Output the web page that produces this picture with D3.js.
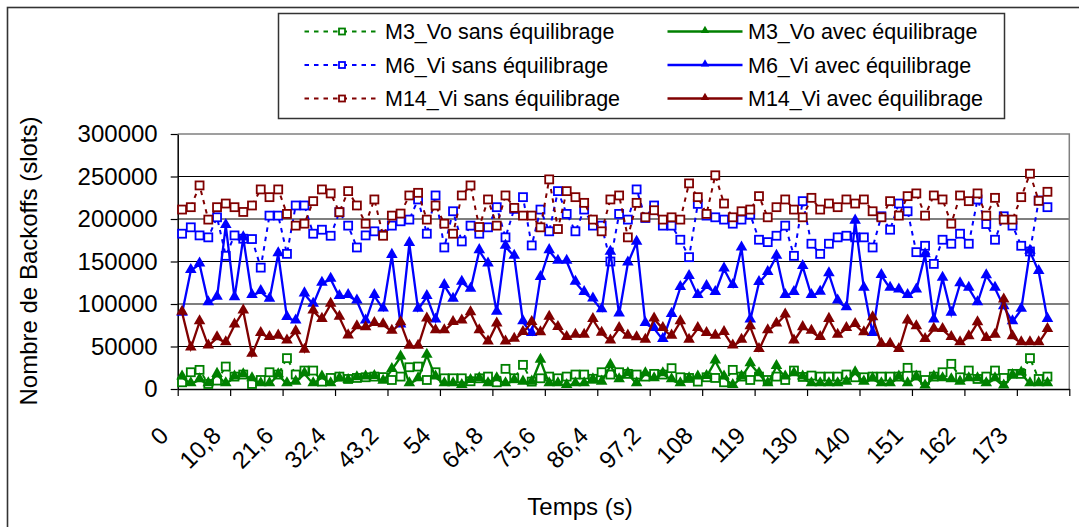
<!DOCTYPE html>
<html lang="fr">
<head>
<meta charset="utf-8">
<title>Backoffs</title>
<script src="https://cdnjs.cloudflare.com/ajax/libs/d3/7.8.5/d3.min.js"></script>
<style>
  body { margin: 0; background: #fff; }
  svg text { font-family: "Liberation Sans", Arial, sans-serif; fill: #000; }
</style>
</head>
<body>
<script>
// categories: one sample every 1.8 s, 102 slots on the axis (100 filled)
var nCategories = 102;
var times = d3.range(nCategories).map(function(i) { return +(i * 1.8).toFixed(1); });
var tickLabels = ["0", "10,8", "21,6", "32,4", "43,2", "54", "64,8", "75,6", "86,4", "97,2",
                  "108", "119", "130", "140", "151", "162", "173"];
var yTicks = [0, 50000, 100000, 150000, 200000, 250000, 300000];

// series values
var m3Sans = [7900,19700,22500,5900,9900,26400,14600,17000,5900,10600,19700,17000,36300,17000,21700,21700,8700,13000,14600,11800,
  13000,13800,14600,14000,10600,14600,25600,26400,10600,19700,12600,12600,12600,9100,12600,14600,7900,23700,12600,28400,
  8700,12600,14600,12600,14600,17000,17000,12000,19700,17000,19700,17800,17000,14600,17800,17000,24500,13800,13000,8700,
  13800,13000,7900,22500,14600,10600,14600,10600,14600,10600,21700,14200,15800,14600,14600,14600,17000,13800,13800,14600,
  14600,14600,14600,24900,15800,10600,14600,19700,29600,13800,21700,11800,14600,21700,13000,17800,17800,36300,11800,14600];
var m3Avec = [13800,5900,10600,5900,17000,5900,13800,16600,11800,5900,5900,16600,5900,7900,17800,5900,13800,5900,11800,9900,
  13000,13800,14600,8900,22700,37500,5900,11800,39500,13800,5900,5900,3900,9900,11800,5900,11800,5900,9900,7900,
  7900,33500,5900,5900,3900,5900,5900,10800,7900,27600,10600,17800,5900,17800,11800,17800,10600,5900,11800,13800,
  14600,32800,13800,3900,13800,29600,17800,5900,26400,13800,17800,13800,5900,5900,5900,5900,7900,18900,7900,11800,
  5900,5900,13800,5900,13800,3200,13800,11800,10600,7900,11800,11800,5900,11800,3200,15800,18500,5900,5900,5900];
var m6Sans = [182700,190200,180700,178400,202000,156700,180700,176800,176400,142800,204000,204000,159000,215900,215900,182700,187400,180300,208000,192200,
  166500,180700,185500,181500,192200,197300,199300,223000,182700,227700,166500,209100,173600,192200,182700,190200,213900,178400,211900,225700,
  168900,211100,185500,232800,206000,185500,211100,192200,192200,150000,206000,199300,234800,201200,215900,192200,192200,175600,155100,217800,
  204000,202000,199300,194500,199300,205200,175600,172800,180300,192200,156700,221000,170900,159000,170900,178400,180300,178400,178400,166500,
  203200,187400,218200,209100,161000,168500,147200,175600,170900,182700,170900,223000,194100,175600,203200,192200,168500,161800,221800,213900];
var m6Avec = [89000,139300,146800,101400,107700,192200,107300,177600,109700,114400,105400,159000,84000,79700,111700,99400,124300,129000,108500,109700,
  103400,79700,109700,94000,157000,75000,170900,93500,108500,80900,121500,105400,125500,117200,162600,146800,90000,167700,155900,78900,
  65100,131000,162600,150000,150000,125500,113300,105600,93000,160600,88000,148000,172400,76900,71000,58000,87600,119200,132200,109700,
  120400,113300,140900,121500,165700,80900,125100,136900,155900,109700,113300,144000,109700,113600,135300,103400,95500,197300,118400,65100,
  133400,118400,116400,109700,116400,157800,80900,130200,88800,123500,118400,101400,133000,118400,96700,78900,93500,161800,138100,81700];
var m14Sans = [211100,213900,239500,199300,213900,218200,213900,208300,215900,234800,225700,234800,206000,192200,194500,221000,234800,230100,208000,232800,
  215900,194500,223000,180300,204000,206400,227700,230800,199300,215900,194500,182700,227700,239500,190600,223000,192200,227700,213100,204000,
  204000,190200,246600,188200,232800,225700,219000,199300,185500,223000,227700,178400,219000,202000,210300,199300,202000,199300,241900,225700,
  206000,251400,218200,202000,209100,211100,226900,202000,213900,223000,211100,202000,224900,211100,218200,213900,223000,218200,223000,209100,
  202000,221000,204000,226900,230100,204000,227700,223000,194500,227700,221000,230100,204000,224900,199300,199300,225700,253300,221400,232000];
var m14Avec = [90000,48100,78900,50500,60000,54100,75000,91500,40600,65100,60400,62000,56400,67100,45400,91500,81700,99400,84100,62300,
  73000,71800,76900,75400,67700,77700,50100,50100,82100,68300,68300,78100,79700,89600,68300,55200,76200,55200,58400,66300,
  78100,65900,84100,72200,60400,63100,63100,81500,65500,56400,71000,62000,60000,57200,82100,71000,62000,78900,57200,71000,
  65100,62000,66300,50500,57200,73000,46200,68300,76200,86800,56400,72000,67700,60400,81700,63100,71000,75800,65900,83700,
  52500,52500,46200,79700,73000,58000,70200,69800,60400,54100,61200,77700,59200,63100,104600,61200,54100,54100,54100,69800];

var series = [
  {name: "M3_Vo sans équilibrage",  values: m3Sans,  color: "#008000", sans: true},
  {name: "M3_Vo avec équilibrage",  values: m3Avec,  color: "#008000", sans: false},
  {name: "M6_Vi sans équilibrage",  values: m6Sans,  color: "#0000ff", sans: true},
  {name: "M6_Vi avec équilibrage",  values: m6Avec,  color: "#0000ff", sans: false},
  {name: "M14_Vi sans équilibrage", values: m14Sans, color: "#800000", sans: true},
  {name: "M14_Vi avec équilibrage", values: m14Avec, color: "#800000", sans: false}
];

var width = 1079, height = 527;
var plot = {left: 177.7, right: 1069.3, top: 134, bottom: 389};

var svg = d3.select("body").append("svg")
  .attr("width", width)
  .attr("height", height);

svg.append("rect").attr("width", width).attr("height", height).attr("fill", "#fff");

// chart frame (right and bottom edges fall outside the picture)
svg.append("rect")
  .attr("x", 7.5).attr("y", 7.5)
  .attr("width", 1100).attr("height", 600)
  .attr("fill", "none").attr("stroke", "#333").attr("stroke-width", 1.6);

var x = d3.scaleBand()
  .domain(d3.range(nCategories))
  .range([plot.left, plot.right])
  .paddingInner(0).paddingOuter(0);

// boundary scale for the tick marks between categories
var xb = d3.scaleLinear().domain([0, nCategories]).range([plot.left, plot.right]);

var y = d3.scaleLinear().domain([0, 300000]).range([plot.bottom, plot.top]);

function cx(i) { return x(i) + x.bandwidth() / 2; }

// gridlines
svg.append("g")
  .selectAll("line")
  .data(yTicks.slice(1, -1))
  .enter().append("line")
  .attr("x1", plot.left).attr("x2", plot.right)
  .attr("y1", function(d) { return y(d); })
  .attr("y2", function(d) { return y(d); })
  .attr("stroke", "#000").attr("stroke-width", 1.2);

// plot area border (top and right)
svg.append("path")
  .attr("d", "M" + plot.left + "," + plot.top + "H" + plot.right + "V" + plot.bottom)
  .attr("fill", "none").attr("stroke", "#808080").attr("stroke-width", 1.5);

// y axis
var yAxis = svg.append("g")
  .attr("transform", "translate(" + plot.left + ",0)")
  .call(d3.axisLeft(y).tickValues(yTicks).tickSize(7).tickSizeOuter(0).tickFormat(d3.format("d")));
yAxis.select(".domain").attr("stroke", "#000").attr("stroke-width", 1.5);
yAxis.selectAll(".tick line").attr("stroke", "#000").attr("stroke-width", 1.2);
yAxis.selectAll(".tick text")
  .attr("x", -20)
  .style("font-size", "24px")
  .style("font-family", "'Liberation Sans', Arial, sans-serif");

// x axis (ticks between categories)
var xAxis = svg.append("g")
  .attr("transform", "translate(0," + plot.bottom + ")")
  .call(d3.axisBottom(xb).tickValues(d3.range(0, nCategories + 1, 6)).tickSize(7).tickSizeOuter(0).tickFormat(""));
xAxis.select(".domain").attr("stroke", "#000").attr("stroke-width", 1.5);
xAxis.selectAll(".tick line").attr("stroke", "#000").attr("stroke-width", 1.2);

svg.append("g")
  .selectAll("text")
  .data(tickLabels)
  .enter().append("text")
  .attr("transform", function(d, k) {
    return "translate(" + (cx(k * 6) - 12) + ",437) rotate(-45)";
  })
  .attr("text-anchor", "end")
  .style("font-size", "24px")
  .text(function(d) { return d; });

// axis titles
svg.append("text")
  .attr("x", 580).attr("y", 515)
  .attr("text-anchor", "middle")
  .style("font-size", "24px")
  .text("Temps (s)");

svg.append("text")
  .attr("transform", "translate(37,261) rotate(-90)")
  .attr("text-anchor", "middle")
  .style("font-size", "24px")
  .text("Nombre de Backoffs (slots)");

// series
var dash = "4.5,5";
var line = d3.line()
  .x(function(d, i) { return cx(i); })
  .y(function(d) { return y(d); });

var tri = d3.symbol().type(d3.symbolTriangle).size(58);
var triSmall = d3.symbol().type(d3.symbolTriangle).size(30);

series.forEach(function(s) {
  var g = svg.append("g");
  g.append("path")
    .datum(s.values)
    .attr("d", line)
    .attr("fill", "none")
    .attr("stroke", s.color)
    .attr("stroke-width", s.sans ? 2 : 2.3)
    .attr("stroke-dasharray", s.sans ? dash : null);

  if (s.sans) {
    g.selectAll("rect")
      .data(s.values)
      .enter().append("rect")
      .attr("x", function(d, i) { return cx(i) - 4; })
      .attr("y", function(d) { return y(d) - 4; })
      .attr("width", 8).attr("height", 8)
      .attr("fill", "#fff")
      .attr("stroke", s.color)
      .attr("stroke-width", 1.8);
  } else {
    g.selectAll("path.m")
      .data(s.values)
      .enter().append("path")
      .attr("class", "m")
      .attr("transform", function(d, i) { return "translate(" + cx(i) + "," + (y(d) - 1) + ")"; })
      .attr("d", tri)
      .attr("fill", s.color);
  }
});

// legend
var legend = svg.append("g");
legend.append("rect")
  .attr("x", 278.5).attr("y", 13.5)
  .attr("width", 726).attr("height", 105)
  .attr("fill", "#fff").attr("stroke", "#333").attr("stroke-width", 1.5);

var legendCols = [304.5, 667.5];
var legendRows = [31.5, 65, 98.5];

series.forEach(function(s, k) {
  var lx = legendCols[k % 2], ly = legendRows[Math.floor(k / 2)];
  var item = legend.append("g").attr("transform", "translate(" + lx + "," + ly + ")");
  item.append("line")
    .attr("x1", 0).attr("x2", 75)
    .attr("stroke", s.color)
    .attr("stroke-width", s.sans ? 2 : 2.3)
    .attr("stroke-dasharray", s.sans ? dash : null);
  if (s.sans) {
    item.append("rect")
      .attr("x", 34.5).attr("y", -3).attr("width", 6).attr("height", 6)
      .attr("fill", "#fff").attr("stroke", s.color).attr("stroke-width", 1.8);
  } else {
    item.append("path")
      .attr("transform", "translate(37.5,-1)")
      .attr("d", triSmall)
      .attr("fill", s.color);
  }
  item.append("text")
    .attr("x", 80.5).attr("dy", "0.35em")
    .style("font-size", "21.5px")
    .text(s.name);
});
</script>
</body>
</html>
